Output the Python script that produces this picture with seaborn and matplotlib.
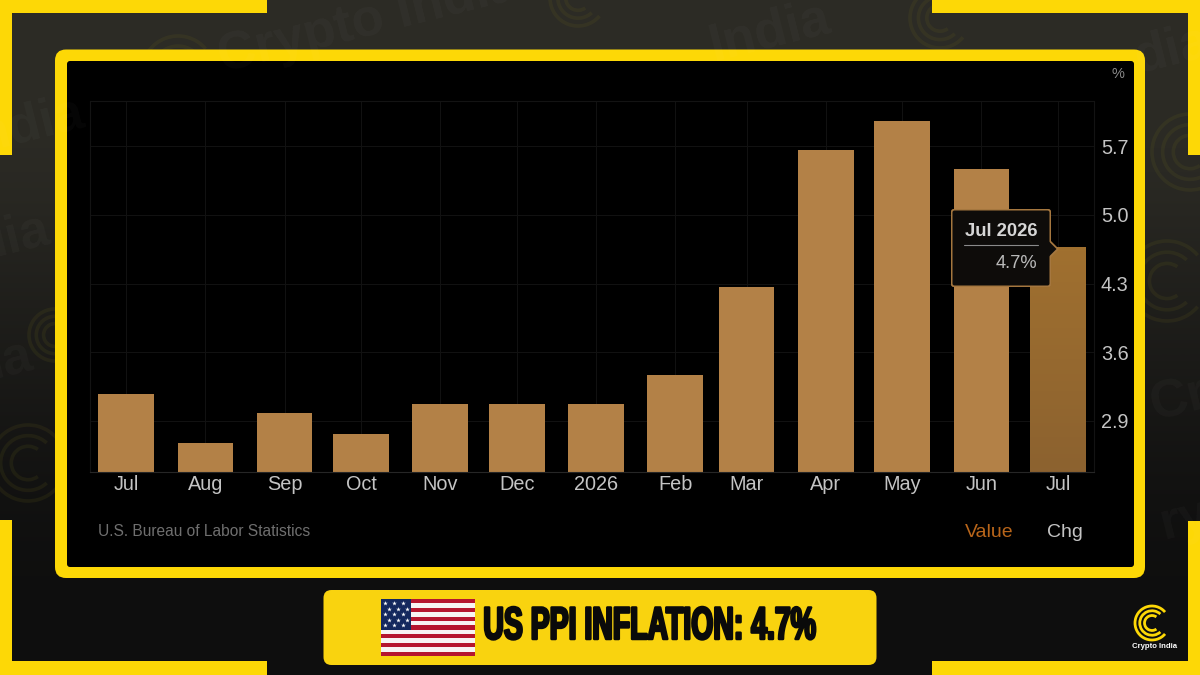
import numpy as np
import pandas as pd
import matplotlib
matplotlib.use("Agg")
import matplotlib.pyplot as plt
import matplotlib.dates as mdates
import matplotlib.patheffects as pe
from matplotlib.colors import LinearSegmentedColormap
from matplotlib.patches import Arc, FancyBboxPatch, Polygon, Rectangle
from matplotlib.transforms import Affine2D
import seaborn as sns

# Chart data
months = ["2025-07-01", "2025-08-01", "2025-09-01", "2025-10-01", "2025-11-01", "2025-12-01", "2026-01-01",
          "2026-02-01", "2026-03-01", "2026-04-01", "2026-05-01", "2026-06-01", "2026-07-01"]
ppi_values = [3.17, 2.68, 2.98, 2.77, 3.07, 3.07, 3.07, 3.37, 4.26, 5.66, 5.96, 5.47, 4.67]
month_labels = ["Jul", "Aug", "Sep", "Oct", "Nov", "Dec", "2026", "Feb", "Mar", "Apr", "May", "Jun", "Jul"]
y_ticks = [2.9, 3.6, 4.3, 5.0, 5.7]

YELLOW = "#fdd806"
BAR = "#b38147"
W, H = 1200, 675

sns.set_theme(style="dark")
plt.rcParams["font.family"] = ["Liberation Sans", "DejaVu Sans"]

fig = plt.figure(figsize=(12, 6.75), dpi=100)


# No condensed heavy font is installed, so squeeze the real text when it is drawn
class Squeeze(pe.AbstractPathEffect):
    def __init__(self, sx, cx, lw, color):
        super().__init__()
        self.sx, self.cx, self.lw, self.color = sx, cx, lw, color

    def draw_path(self, renderer, gc, tpath, affine, rgbFace=None):
        t = affine + Affine2D().translate(-self.cx, 0).scale(self.sx, 1).translate(self.cx, 0)
        gc0 = renderer.new_gc()
        gc0.copy_properties(gc)
        gc0.set_linewidth(self.lw)
        gc0.set_foreground(self.color)
        renderer.draw_path(gc0, tpath, t, rgbFace)
        gc0.restore()


# Axes in picture pixels, for everything around the chart
def pixel_axes(zorder):
    a = fig.add_axes([0, 0, 1, 1], zorder=zorder)
    a.set_xlim(0, W)
    a.set_ylim(H, 0)
    a.axis("off")
    a.patch.set_alpha(0)
    return a


def draw_logo(a, x, y, r, color, lw, alpha=1.0):
    # three rings with the gap on the right
    for k in [1.0, 0.72, 0.44]:
        a.add_patch(Arc((x, y), 2 * r * k, 2 * r * k, theta1=40 + (1 - k) * 25, theta2=320 - (1 - k) * 25,
                        color=color, lw=lw, alpha=alpha))


def round_box(a, x0, y0, x1, y1, rad, color, **kw):
    a.add_patch(FancyBboxPatch((x0 + rad, y0 + rad), x1 - x0 - 2 * rad, y1 - y0 - 2 * rad,
                               boxstyle=f"round,pad={rad},rounding_size={rad}", fc=color, ec="none", **kw))


back = pixel_axes(0)

# Background gradient, lighter at the top
shades = np.array([1.0, 1.0, 0.62, 0.36, 0.08, 0.0]).reshape(-1, 1)
back.imshow(shades, cmap=LinearSegmentedColormap.from_list("bg", ["#0e0e0e", "#2c2b25"]), vmin=0, vmax=1,
            extent=[0, W, H, 0], aspect="auto", interpolation="bicubic")
back.set_xlim(0, W)
back.set_ylim(H, 0)

# Faint watermarks
wm_texts = [(368, 22, "Crypto India", 38), (770, 32, "India", 38), (1172, 50, "dia", 38), (30, 125, "ndia", 38),
            (12, 238, "dia", 38), (10, 360, "ia", 38), (1180, 400, "Cr", 38), (1185, 520, "ry", 38)]
for tx, ty, s, size in wm_texts:
    back.text(tx, ty, s, color="#ffffff", alpha=0.028, fontsize=size, fontweight="bold", rotation=14,
              ha="center", va="center", clip_on=True)
wm_logos = [(178, 72, 36), (578, -2, 28), (940, 18, 30), (1190, 152, 38), (1167, 281, 40), (28, 463, 38), (55, 335, 26)]
for lx, ly, lr in wm_logos:
    draw_logo(back, lx, ly, lr, "#6f6a1c", 2.6, alpha=0.14)

# Yellow corner brackets
for rect in [(0, 0, 267, 13), (0, 0, 12, 155), (932, 0, 268, 13), (1188, 0, 12, 155),
             (0, 661, 267, 14), (0, 520, 12, 155), (932, 661, 268, 14), (1188, 521, 12, 154)]:
    back.add_patch(Rectangle((rect[0], rect[1]), rect[2], rect[3], fc=YELLOW, ec="none"))

# Chart panel
round_box(back, 55, 49.5, 1145, 578, 11, YELLOW)
round_box(back, 67, 61, 1134, 567, 3, "#000000")

# Banner at the bottom
round_box(back, 323.5, 590, 876.5, 665, 8, "#f9d30f")
stripe_h = 57 / 13
for i in range(13):
    back.add_patch(Rectangle((381, 599 + i * stripe_h), 94, stripe_h, fc="#b5152f" if i % 2 == 0 else "#f7f3f3", ec="none"))
back.add_patch(Rectangle((381, 599), 30, 31, fc="#14285e", ec="none"))
star_x, star_y = [], []
for row in range(5):
    for col in range(3):
        star_x.append(384.5 + col * 9 + (row % 2) * 4.5)
        star_y.append(603 + row * 5.6)
back.scatter(star_x, star_y, marker="*", s=12, color="white", linewidths=0)
back.text(650, 627, "US PPI INFLATION: 4.7%", fontweight="bold", fontsize=33, color="#0a0a0a", ha="center", va="center",
          path_effects=[Squeeze(0.62, 650, 1.8, "#0a0a0a")])

# Small logo in the corner
draw_logo(back, 1152, 623, 17, YELLOW, 2.0)
back.text(1154.5, 646, "Crypto India", color="white", fontsize=5.6, fontweight="bold", ha="center", va="center")

# The chart itself, bars on a date scale as in the original
ax = fig.add_axes([90 / W, 1 - 472 / H, 1004 / W, 371.5 / H], zorder=1)
df = pd.DataFrame({"month": mdates.date2num(pd.to_datetime(months)), "value": ppi_values})
sns.barplot(data=df, x="month", y="value", native_scale=True, color=BAR, saturation=1, width=0.78,
            edgecolor="none", linewidth=0, ax=ax)

xlim = (df["month"].iloc[0] - 14.2, df["month"].iloc[0] + 379.1)
ylim = (2.38, 6.165)
ax.set_facecolor("#000000")
ax.set_xlim(xlim)
ax.set_ylim(ylim)
ax.set_xticks(df["month"])
ax.set_xticklabels(month_labels)
ax.set_yticks(y_ticks)
ax.set_yticklabels([f"{v:.1f}" for v in y_ticks])
ax.set_xlabel("")
ax.set_ylabel("")
ax.yaxis.tick_right()
ax.tick_params(axis="both", length=0, labelcolor="#c4c4c4", labelsize=14.3)
ax.tick_params(axis="x", pad=2.2)
ax.tick_params(axis="y", pad=5)
ax.grid(True, color="#111111", lw=0.8)
ax.set_axisbelow(True)
for name, spine in ax.spines.items():
    spine.set_visible(True)
    spine.set_color("#262626" if name == "bottom" else "#131313")
    spine.set_linewidth(0.8)

# Last bar is the hovered one: darker with a soft gradient
last = ax.patches[-1]
x0, x1 = last.get_x(), last.get_x() + last.get_width()
grad = ax.imshow(np.linspace(0, 1, 64).reshape(-1, 1),
                 cmap=LinearSegmentedColormap.from_list("hover", ["#a0702f", "#8c6230"]),
                 extent=[x0, x1, ax.get_ylim()[0], last.get_height()], aspect="auto", origin="upper",
                 zorder=last.get_zorder() + 0.1)
grad.set_clip_path(last)
ax.set_xlim(xlim)
ax.set_ylim(ylim)

# Texts and tooltip over the chart
top = pixel_axes(2)
top.text(1117.5, 74, "%", color="#8a8a8a", fontsize=10.5, ha="center", va="center")
top.text(98, 531.5, "U.S. Bureau of Labor Statistics", color="#6f6f6f", fontsize=11.2, ha="left", va="center")
top.text(989.5, 532.5, "Value", color="#b8651a", fontsize=14, ha="center", va="center")
top.text(1065, 532.5, "Chg", color="#c4c4c4", fontsize=14, ha="center", va="center")

round_box(top, 951, 209, 1051, 287, 2.5, "#a5773f")
top.add_patch(Polygon([(1050, 240), (1059, 249), (1050, 258)], closed=True, fc="#a5773f", ec="none"))
round_box(top, 952.5, 210.5, 1049.5, 285.5, 2, "#0e0c0a")
top.add_patch(Polygon([(1049, 241.5), (1056.5, 249), (1049, 256.5)], closed=True, fc="#0e0c0a", ec="none"))
top.text(1037.5, 231, "Jul 2026", color="#d6d6d6", fontsize=13.3, fontweight="bold", ha="right", va="center")
top.plot([964, 1037.5], [244.5, 244.5], color="#8a8a8a", lw=0.8)
top.text(1037.5, 263.5, "4.7%", color="#b9b9b9", fontsize=13.2, ha="right", va="center")
top.set_xlim(0, W)
top.set_ylim(H, 0)

fig.savefig("out.png", dpi=100, facecolor="#111111")
